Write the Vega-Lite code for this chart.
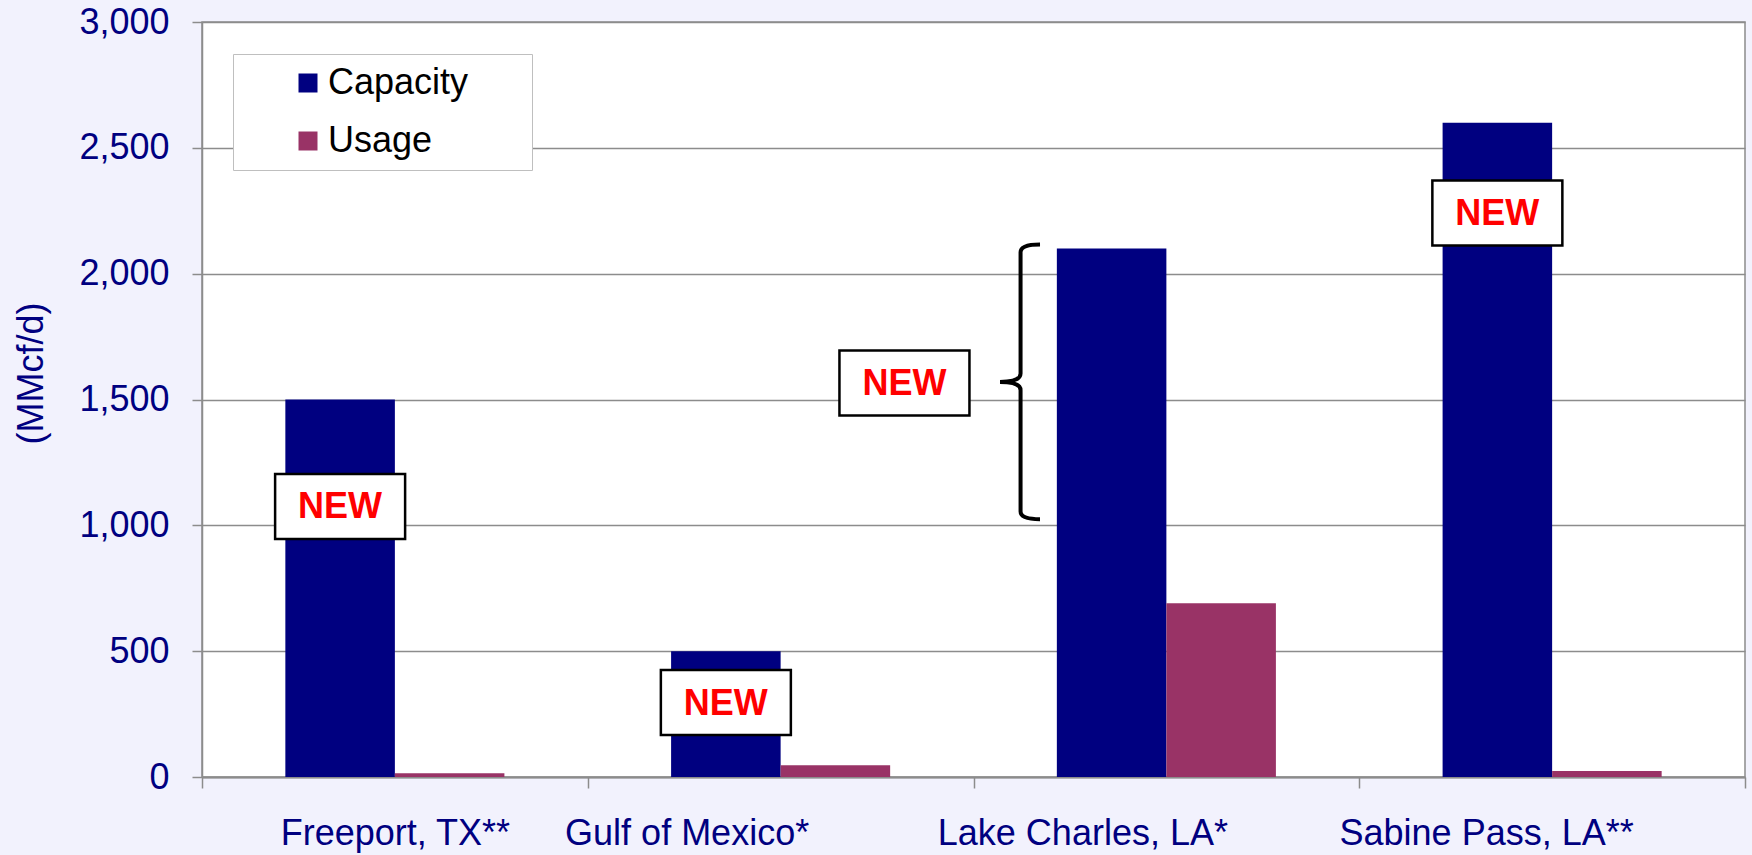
{
  "$schema": "https://vega.github.io/schema/vega-lite/v6.json",
  "width": 1543,
  "height": 755,
  "autosize": {"type": "none"},
  "padding": {"left": 202, "top": 22, "right": 7, "bottom": 78},
  "background": "#F2F2FD",
  "view": {"fill": "white", "stroke": "#8C8C8C", "strokeWidth": 1.5},
  "config": {"font": "Liberation Sans"},
  "datasets": {
    "bars": [
      {"site": "Freeport, TX**", "series": "Capacity", "value": 1500},
      {"site": "Freeport, TX**", "series": "Usage", "value": 15},
      {"site": "Gulf of Mexico*", "series": "Capacity", "value": 500},
      {"site": "Gulf of Mexico*", "series": "Usage", "value": 47},
      {"site": "Lake Charles, LA*", "series": "Capacity", "value": 2100},
      {"site": "Lake Charles, LA*", "series": "Usage", "value": 690},
      {"site": "Sabine Pass, LA**", "series": "Capacity", "value": 2600},
      {"site": "Sabine Pass, LA**", "series": "Usage", "value": 24}
    ],
    "notes": [
      {"site": "Freeport, TX**", "series": "Capacity", "value": 1075, "label": "NEW"},
      {"site": "Gulf of Mexico*", "series": "Capacity", "value": 296, "label": "NEW"},
      {"site": "Sabine Pass, LA**", "series": "Capacity", "value": 2241, "label": "NEW"}
    ],
    "sidenote": [
      {"site": "Lake Charles, LA*", "value": 1566, "label": "NEW"}
    ],
    "brace": [
      {"site": "Lake Charles, LA*", "value": 1570}
    ]
  },
  "layer": [
    {
      "data": {"name": "bars"},
      "mark": {"type": "bar"},
      "encoding": {
        "x": {
          "field": "site", "type": "nominal", "sort": null,
          "scale": {"paddingInner": 0, "paddingOuter": 0},
          "axis": {
            "title": null, "labelAngle": 0, "tickBand": "extent", "grid": false,
            "labelFontSize": 36, "labelColor": "#000080", "labelPadding": 28,
            "labelOffset": {
              "condition": [
                {"test": "datum.value === 'Gulf of Mexico*'", "value": -94},
                {"test": "datum.value === 'Lake Charles, LA*'", "value": -84},
                {"test": "datum.value === 'Sabine Pass, LA**'", "value": -66}
              ],
              "value": 0
            },
            "tickSize": 11, "tickColor": "#8C8C8C", "tickWidth": 1.5,
            "domainColor": "#8C8C8C", "domainWidth": 2, "labelLimit": 400
          }
        },
        "xOffset": {
          "field": "series", "type": "nominal", "sort": ["Capacity", "Usage"],
          "scale": {"paddingInner": 0, "paddingOuter": 0.761}
        },
        "y": {
          "field": "value", "type": "quantitative",
          "scale": {"domain": [0, 3000], "nice": false},
          "axis": {
            "title": "(MMcf/d)", "values": [0, 500, 1000, 1500, 2000, 2500, 3000], "format": ",.0f",
            "grid": true, "gridColor": "#8C8C8C", "gridWidth": 1.5,
            "domainColor": "#8C8C8C", "domainWidth": 1.5,
            "tickColor": "#8C8C8C", "tickSize": 10, "tickWidth": 1.5,
            "labelFontSize": 36, "labelColor": "#000080", "labelPadding": 23,
            "titleFontSize": 36, "titleColor": "#000080", "titleFontWeight": "normal",
            "titlePadding": 28, "titleY": 351
          }
        },
        "color": {
          "field": "series", "type": "nominal", "sort": ["Capacity", "Usage"],
          "scale": {"range": ["#000080", "#993366"]},
          "legend": {
            "title": null,
            "orient": "none", "legendX": 31, "legendY": 32,
            "fillColor": "white", "strokeColor": "#BFBFBF", "padding": 11,
            "symbolType": "square", "symbolSize": 361, "symbolStrokeWidth": 0,
            "symbolOffset": 46, "labelOffset": 2, "rowPadding": 22,
            "labelFontSize": 36, "labelColor": "black", "labelLimit": 400,
            "labelExpr": "datum.label + '\u2800\u2800'"
          }
        }
      }
    },
    {
      "data": {"name": "brace"},
      "mark": {
        "type": "point",
        "shape": "M0.141,-0.996Q0,-0.996 0,-0.94L0,-0.06Q0,0 -0.149,0Q0,0 0,0.06L0,0.94Q0,0.996 0.141,0.996",
        "size": 76176, "filled": false, "stroke": "black", "strokeWidth": 4, "opacity": 1
      },
      "encoding": {
        "x": {"field": "site", "type": "nominal", "bandPosition": 0.122},
        "y": {"field": "value", "type": "quantitative"}
      }
    },
    {
      "data": {"name": "notes"},
      "encoding": {
        "x": {"field": "site", "type": "nominal"},
        "xOffset": {"field": "series", "type": "nominal"},
        "y": {"field": "value", "type": "quantitative"}
      },
      "layer": [
        {"mark": {"type": "point", "shape": "M-1,-0.5H1V0.5H-1Z", "size": 16900, "filled": true, "fill": "white", "stroke": "black", "strokeWidth": 2.5, "opacity": 1}},
        {"mark": {"type": "text", "fontSize": 36, "fontWeight": "bold", "color": "#FF0000", "align": "center", "baseline": "middle", "dy": 1}, "encoding": {"text": {"field": "label"}}}
      ]
    },
    {
      "data": {"name": "sidenote"},
      "encoding": {
        "x": {"field": "site", "type": "nominal", "bandPosition": -0.179},
        "y": {"field": "value", "type": "quantitative"}
      },
      "layer": [
        {"mark": {"type": "point", "shape": "M-1,-0.5H1V0.5H-1Z", "size": 16900, "filled": true, "fill": "white", "stroke": "black", "strokeWidth": 2.5, "opacity": 1}},
        {"mark": {"type": "text", "fontSize": 36, "fontWeight": "bold", "color": "#FF0000", "align": "center", "baseline": "middle", "dy": 1}, "encoding": {"text": {"field": "label"}}}
      ]
    }
  ]
}
